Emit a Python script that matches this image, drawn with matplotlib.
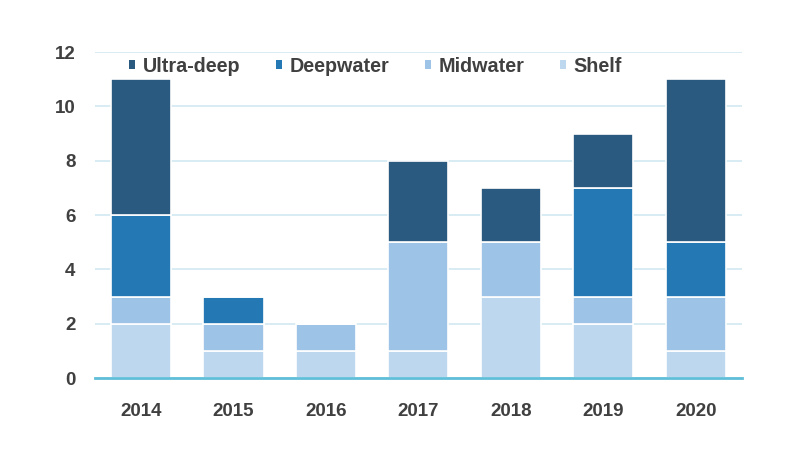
import numpy as np
import matplotlib.pyplot as plt

years = ['2014', '2015', '2016', '2017', '2018', '2019', '2020']
shelf = [2, 1, 1, 1, 3, 2, 1]
midwater = [1, 1, 1, 4, 2, 1, 2]
deepwater = [3, 1, 0, 0, 0, 4, 2]
ultra_deep = [5, 0, 0, 3, 2, 2, 6]

series = [
    ('Shelf', shelf, '#bdd7ee'),
    ('Midwater', midwater, '#9dc3e6'),
    ('Deepwater', deepwater, '#2479b5'),
    ('Ultra-deep', ultra_deep, '#2a5a80'),
]

plt.rcParams['font.family'] = ['Liberation Sans', 'DejaVu Sans']

fig = plt.figure(figsize=(7.97, 4.65), dpi=100)
ax = fig.add_axes([0.119, 0.187, 0.812, 0.701])

x = np.arange(len(years))
bottom = np.zeros(len(years))
handles = {}
for name, vals, color in series:
    vals = np.array(vals, dtype=float)
    bars = ax.bar(x, vals, 0.65, bottom=bottom, color=color,
                  edgecolor='white', linewidth=1.2, label=name, zorder=3)
    handles[name] = bars
    bottom += vals

ax.set_xlim(-0.5, 6.5)
ax.set_ylim(0, 12)
ax.set_yticks(range(0, 13, 2))
ax.set_xticks(x)
ax.set_xticklabels(years)
ax.grid(axis='y', color='#d3e9f1', linewidth=1.2, zorder=0)
for s in ['top', 'right', 'left']:
    ax.spines[s].set_visible(False)
ax.spines['bottom'].set_color('#5fbfd8')
ax.spines['bottom'].set_linewidth(2)
ax.spines['bottom'].set_zorder(4)
ax.tick_params(length=0, labelsize=13.5, labelcolor='#404040')
ax.tick_params(axis='x', pad=18)
ax.tick_params(axis='y', pad=14)
for lab in ax.get_xticklabels() + ax.get_yticklabels():
    lab.set_fontweight('bold')

# legend sits in one row above the bars
order = ['Ultra-deep', 'Deepwater', 'Midwater', 'Shelf']
leg = ax.legend([handles[n] for n in order], order, loc='center left',
                bbox_to_anchor=(129 / 797, 1 - 66 / 465),
                bbox_transform=fig.transFigure, ncol=4, frameon=False,
                borderpad=0, borderaxespad=0,
                handlelength=0.32, handleheight=0.32, handletextpad=0.38,
                columnspacing=1.8, prop={'size': 14.2, 'weight': 'bold'})
for t in leg.get_texts():
    t.set_color('#404040')
for h in leg.legend_handles:
    h.set_edgecolor('none')

fig.savefig('out.png', dpi=100)
